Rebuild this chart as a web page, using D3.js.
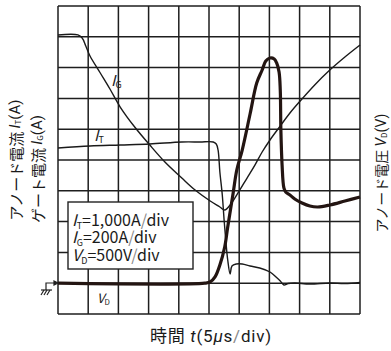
<!DOCTYPE html>
<html><head><meta charset="utf-8">
<script src="https://cdn.jsdelivr.net/npm/d3@7"></script>
<style>
html,body{margin:0;padding:0;background:#fff;}
svg{display:block;}
text{font-family:"Noto Sans CJK JP","Noto Sans",sans-serif;fill:#1a1a1a;}
</style></head><body>
<svg id="c" width="391" height="351"></svg>
<script>
// time in microseconds (5 µs/div)
const timeTicks = [0,5,10,15,20,25,30,35,40,45,50];
const divTicks = [0,1,2,3,4,5,6,7,8,9,10];

// anode current I_T (A), 1000 A/div
const itTime = [0,5.3,10.3,15.2,20.5,23.5,25.7,26.2,26.5,26.8,27.2,27.5,27.8,28.1,28.5,28.8,29.5,30.5,31.8,33.4,35.1,36.1,36.8,37.4,38.1,39.2,41.7,45.0,47.5,50];
const itVal  = [4390,4455,4487,4520,4585,4585,4585,4520,4325,3610,2864,2052,1338,753,299,558,623,623,558,494,364,201,71,-58,-10,6,-26,6,-10,23];

// anode voltage V_D (V), 500 V/div
const vdTime = [0,24.3,25.2,26.0,26.8,27.6,28.1,29.0,29.6,30.5,31.8,32.9,33.8,34.4,35.1,35.8,36.2,36.6,36.8,36.9,37.1,37.4,37.7,38.4,39.2,40.4,41.7,43.0,45.0,47.5,50];
const vdVal  = [0,0,20,101,295,588,912,1464,1838,2162,2747,3250,3461,3607,3656,3640,3575,3429,3136,2487,1919,1546,1481,1432,1367,1302,1253,1237,1270,1334,1399];

// gate current I_G (A), 200 A/div
const igTime = [0,3.3,4.0,4.6,5.3,7.0,8.6,10.3,12.7,15.2,17.7,20.5,22.7,25.2,26.8,27.6,28.5,29.8,31.3,32.6,33.8,35.1,36.8,38.4,40.1,42.5,45.0,47.5,50];
const igVal  = [12,12,-8,-60,-125,-235,-339,-456,-586,-703,-813,-917,-995,-1066,-1105,-1125,-1092,-1014,-917,-833,-748,-670,-579,-495,-417,-313,-216,-131,-53];

const svg = d3.select("#c");
const L=58,R=360,T=6,B=314;
const x = d3.scaleLinear().domain([0,50]).range([L,R]);
const yDiv = d3.scaleLinear().domain([0,10]).range([B,T]);
const yIT = d3.scaleLinear().domain([-1000,9000]).range([B,T]);
const yVD = d3.scaleLinear().domain([-500,4500]).range([B,T]);
const yIG = d3.scaleLinear().domain([-1800,200]).range([B,T]);

// grid via axes
const gx = svg.append("g").attr("transform",`translate(0,${B})`)
  .call(d3.axisBottom(x).tickValues(timeTicks).tickSize(-(B-T)).tickFormat("").offset(0));
const gy = svg.append("g").attr("transform",`translate(${L},0)`)
  .call(d3.axisLeft(yDiv).tickValues(divTicks).tickSize(-(R-L)).tickFormat("").offset(0));
[gx,gy].forEach(g=>{
  g.select(".domain").remove();
  g.selectAll("line").attr("stroke","#1e1e1e").attr("stroke-width",1.5);
});

const line = (xs,ys,ysc)=>d3.line().x((d,i)=>x(xs[i])).y((d,i)=>ysc(ys[i])).curve(d3.curveCatmullRom.alpha(0.5))(xs);

svg.append("path").attr("d",line(itTime,itVal,yIT)).attr("fill","none").attr("stroke","#1a1a1a").attr("stroke-width",1.4);
svg.append("path").attr("d",line(igTime,igVal,yIG)).attr("fill","none").attr("stroke","#1a1a1a").attr("stroke-width",1.4);
svg.append("path").attr("d",line(vdTime,vdVal,yVD)).attr("fill","none").attr("stroke","#231512").attr("stroke-width",3.2).attr("stroke-linejoin","round");

// legend box
const bx=68,by=202,bw=125,bh=67;
svg.append("rect").attr("x",bx).attr("y",by).attr("width",bw).attr("height",bh).attr("fill","#fff").attr("stroke","#222").attr("stroke-width",1.4);
const legend = [
  {sym:"I", sub:"T", rest:"=1,000A", y:226},
  {sym:"I", sub:"G", rest:"=200A", y:243},
  {sym:"V", sub:"D", rest:"=500V", y:261}
];
legend.forEach(d=>{
  const t = svg.append("text").attr("x",72).attr("y",d.y).attr("font-size",16).attr("font-family","Roboto, 'Noto Sans', sans-serif");
  t.append("tspan").attr("font-style","italic").text(d.sym);
  t.append("tspan").attr("font-size",9).attr("dy",3).text(d.sub);
  t.append("tspan").attr("dy",-3).text(d.rest);
  t.append("tspan").attr("fill","#888").text("/");
  t.append("tspan").text("div");
});

// curve labels
function subLabel(px,py,sym,sub,fs){
  const t = svg.append("text").attr("x",px).attr("y",py).attr("font-size",fs).attr("font-family","Roboto, 'Noto Sans', sans-serif");
  t.append("tspan").attr("font-style","italic").text(sym);
  t.append("tspan").attr("font-size",fs*0.6).attr("dy",2).text(sub);
}
subLabel(111,86,"I","G",15);
subLabel(94,141,"I","T",15);
subLabel(97,303,"V","D",13);

// ground symbol
const gs = svg.append("g").attr("stroke","#222").attr("stroke-width",1.2).attr("fill","none");
gs.append("path").attr("d","M46,290 V283 H56");
gs.append("path").attr("d","M54,281 L58,283 L54,285 Z").attr("fill","#222");
gs.append("path").attr("d","M41,290 H52");
gs.append("path").attr("d","M44,290 L41,295 M47,290 L44,295 M50,290 L47,295");

// axis titles
function vLabel(cx,cy,parts,fs){
  const t = svg.append("text").attr("transform",`translate(${cx},${cy}) rotate(-90)`).attr("text-anchor","middle").attr("font-size",fs).attr("dominant-baseline","central");
  parts.forEach(p=>{
    const s=t.append("tspan").text(p.t);
    if(p.it) s.attr("font-style","italic").attr("font-family","Roboto, sans-serif");
    if(p.sub) s.attr("font-size",8).attr("dy",2);
    if(p.up) s.attr("dy",-2);
    if(p.fam) s.attr("font-family",p.fam);
  });
}
vLabel(15,160,[{t:"アノード電流 "},{t:"I",it:true},{t:"T",sub:true},{t:"(A)",up:true,fam:"Roboto, sans-serif"}],15);
vLabel(37,169,[{t:"ゲート電流 "},{t:"I",it:true},{t:"G",sub:true},{t:"(A)",up:true,fam:"Roboto, sans-serif"}],15);
vLabel(381,173,[{t:"アノード電圧 "},{t:"V",it:true},{t:"D",sub:true},{t:"(V)",up:true,fam:"Roboto, sans-serif"}],14);

const bt = svg.append("text").attr("x",211).attr("y",342).attr("text-anchor","middle").attr("font-size",17).attr("letter-spacing",0.8);
bt.append("tspan").text("時間 ");
bt.append("tspan").attr("font-style","italic").attr("font-family","Roboto, sans-serif").text("t");
bt.append("tspan").attr("font-family","Roboto, sans-serif").text("(5");
bt.append("tspan").attr("font-style","italic").attr("font-family","Roboto, sans-serif").text("µ");
bt.append("tspan").attr("font-family","Roboto, sans-serif").text("s");
bt.append("tspan").attr("font-family","Roboto, sans-serif").attr("fill","#888").text("/");
bt.append("tspan").attr("font-family","Roboto, sans-serif").text("div)");
</script>
</body></html>
